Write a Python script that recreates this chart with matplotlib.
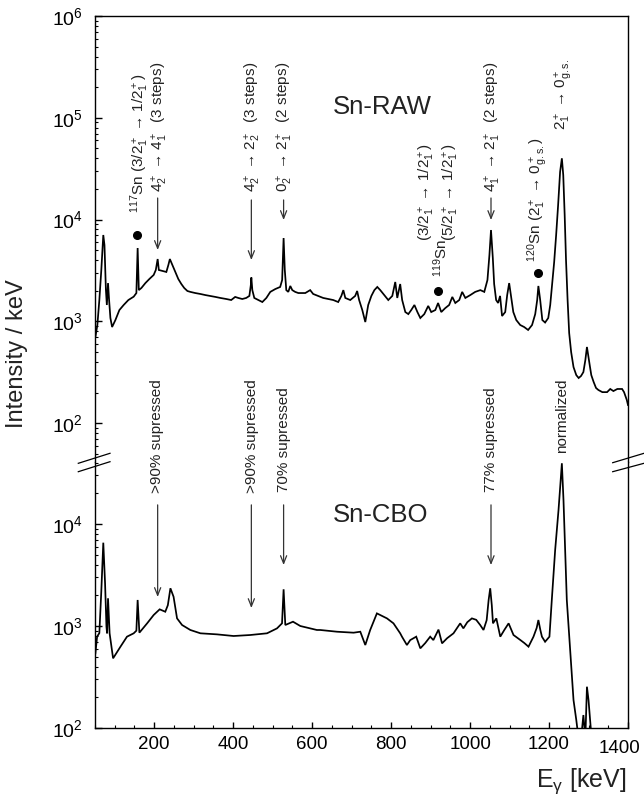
import matplotlib
matplotlib.use('Agg')
import matplotlib.pyplot as plt
from matplotlib.lines import Line2D
from matplotlib.ticker import LogLocator, FixedLocator, FixedFormatter, MultipleLocator, NullFormatter

plt.rcParams['font.family'] = ['Liberation Sans', 'DejaVu Sans']
plt.rcParams['mathtext.fontset'] = 'custom'
plt.rcParams['mathtext.rm'] = 'Liberation Sans'
plt.rcParams['mathtext.it'] = 'Liberation Sans:italic'
plt.rcParams['mathtext.default'] = 'regular'

# ---------------- data ----------------
raw_kev = [51, 56, 61, 66, 71, 74, 77.6, 80, 83, 85.7, 89, 93.3, 101.6, 111.8, 122.6, 134.5,
           148, 154.8, 158, 161, 167.5, 177.6, 187.7, 198.6, 204, 208.7, 211.7, 220.6, 230.7,
           235.8, 239.6, 246, 253.5, 261, 268.7, 276, 284, 291.5, 304, 317, 329.5, 342, 355,
           367.5, 382.6, 395, 405, 413, 423, 433, 441, 444.7, 446, 448.5, 453.5, 463.6, 473.8,
           484, 494, 506.7, 519, 524, 527.7, 530.7, 534.5, 539.6, 544.6, 549.7, 557, 565, 570,
           582.6, 595, 602.6, 615, 628, 641, 653.5, 666, 674, 679, 684, 696.5, 709, 714, 719,
           727, 734.6, 742, 750, 757.6, 765, 772.5, 782.6, 792.8, 803, 810.5, 815.6, 823, 828,
           836, 843.6, 851, 859, 866.6, 874, 884, 894, 901.6, 912, 919, 927, 937, 947, 955,
           962.6, 972.6, 980, 988, 1000.6, 1013, 1026, 1036, 1044, 1049, 1053, 1057.6, 1061,
           1066, 1071, 1076, 1081, 1089, 1094, 1099, 1104, 1109.5, 1117, 1127, 1137, 1147,
           1157, 1165, 1170, 1173, 1177.6, 1183, 1190, 1198, 1203, 1208, 1213, 1218, 1223,
           1228, 1232.5, 1236, 1239.6, 1243, 1247, 1251, 1256, 1262, 1269, 1275, 1281, 1287,
           1292, 1296, 1299, 1303, 1307, 1313, 1319, 1325, 1335, 1347, 1355, 1363, 1373, 1385,
           1390, 1397, 1400]
raw_int = [703, 922, 1622, 3200, 7060, 5620, 2040, 1450, 2380, 1622, 1080, 881, 1030, 1294, 1450, 1622,
           1750, 1900, 5260, 2030, 2130, 2380, 2610, 2860, 3200, 4100, 3200, 3130, 3060,
           3580, 4100, 3580, 3060, 2610, 2330, 2130, 1990, 1950, 1900, 1860, 1815, 1780, 1740,
           1700, 1660, 1622, 1740, 1700, 1660, 1700, 1780, 2280, 2700, 2030, 1700, 1622, 1550,
           1700, 1950, 2080, 2180, 2550, 6590, 3200, 2030, 1950, 2230, 2030, 1950, 1900, 1900,
           1900, 2030, 1860, 1780, 1700, 1660, 1622, 1550, 1780, 2030, 1700, 1622, 1780, 1990, 1622,
           1294, 986, 1450, 1780, 2030, 2180, 2030, 1815, 1622, 1780, 2440, 1700, 2330, 1622,
           1236, 1180, 1294, 1450, 1236, 1080, 1180, 1420, 1236, 1294, 1517, 1236, 1350, 1450, 1740,
           1517, 1622, 1950, 1700, 1815, 1950, 2030, 1950, 2550, 4490, 7900, 4200, 2330,
           1622, 1517, 1780, 1130, 1236, 1815, 2380, 1740, 1236, 1032, 922, 881, 824,
           922, 1180, 1622, 2230, 1622, 1032, 975, 1080, 1450, 2330, 3830, 7060, 13900,
           29400, 40000, 27400, 11100, 4010, 1622, 769, 500, 356, 297, 278, 291, 318,
           418, 561, 468, 373, 297, 254, 222, 212, 202, 202, 217, 207, 217, 217,
           202, 169, 151]

cbo_kev = [51, 55.3, 61, 66, 71, 75.5, 79, 80.6, 83, 87, 95.8, 114.5, 131, 148, 154.8, 158, 162.4,
           182, 198.6, 213.8, 228, 234.5, 241, 249, 257.8, 270.5, 291.5, 317, 359, 401, 443,
           485.7, 511, 523.7, 527.7, 532, 551.5, 570, 612, 620.6, 663, 705, 722, 734.6, 747,
           764, 789.5, 806, 823, 827.5, 840, 848.5, 863.6, 874, 886.4, 899, 907, 920, 929,
           942, 958, 975, 983, 993, 1004.6, 1015.5, 1025.6, 1034, 1042, 1047, 1051, 1055,
           1058, 1066.5, 1076.5, 1086.7, 1097.6, 1110, 1127.5, 1137.6, 1148, 1160.6, 1168.7,
           1173, 1178, 1182, 1190, 1201, 1207, 1215.5, 1224, 1229.5, 1232.5, 1236.6, 1245,
           1253.5, 1262, 1269, 1274.6, 1280, 1287, 1292, 1296, 1300, 1304, 1309, 1320, 1400]
cbo_int = [540, 786, 853, 2200, 6560, 2620, 984, 848, 1870, 848, 482, 627, 786, 848, 900, 1800, 860,
           1062, 1282, 1457, 1380, 1600, 2344, 1936, 1188, 1023, 914, 848, 828, 798, 816,
           848, 948, 1062, 2290, 1023, 1102, 1000, 914, 914, 879, 860, 879, 651, 914,
           1330, 1188, 1062, 848, 786, 651, 728, 786, 604, 680, 786, 728, 922, 676,
           760, 848, 1062, 948, 1090, 1188, 1150, 1023, 914, 1140, 1800, 2344, 1600,
           1062, 1188, 786, 914, 1062, 816, 728, 680, 627, 786, 957,
           1145, 914, 786, 701, 786, 1800, 5560, 13700, 27000, 39400, 17200, 1800,
           582, 188, 120, 80, 70, 134, 80, 254, 188, 120, 70, 40, 30]

x_ticks = [200, 400, 600, 800, 1000, 1200, 1400]
x_tick_labels = ['200', '400', '600', '800', '1000', '1200', '1400']

# top-panel labels: (text, x keV, bottom y)
top_labels = [
    (r'$^{117}$Sn (3/2$^+_1$ → 1/2$^+_1$)', 162, 11600),
    (r'4$^+_2$ → 4$^+_1$  (3 steps)', 215, 18800),
    (r'4$^+_2$ → 2$^+_2$  (3 steps)', 449, 18800),
    (r'0$^+_2$ → 2$^+_1$  (2 steps)', 530, 18800),
    (r'$^{119}$Sn', 925, 2730),
    (r'(3/2$^+_1$ → 1/2$^+_1$)', 892, 6160),
    (r'(5/2$^+_1$ → 1/2$^+_1$)', 951, 6160),
    (r'4$^+_1$ → 2$^+_1$  (2 steps)', 1057, 18800),
    (r'$^{120}$Sn (2$^+_1$ → 0$^+_{g.s.}$)', 1172.6, 3830),
    (r'2$^+_1$ → 0$^+_{g.s.}$', 1236, 75900),
]
top_arrows = [(208.7, 16300, 5030), (446, 15600, 4010), (527.7, 15600, 9910), (1053, 16300, 9910)]
dot_kev = [157.3, 917.6, 1173]
dot_int = [7060, 2010, 3010]

bot_labels = [
    ('>90% supressed', 207.5, 20100),
    ('>90% supressed', 447.7, 20100),
    ('70% supressed', 527.7, 20600),
    ('77% supressed', 1053, 20600),
    ('normalized', 1232.5, 49700),
]
bot_arrows = [(208.7, 15400, 1925), (446, 15400, 1500), (527.7, 15400, 3960), (1053, 15400, 3960)]

# ---------------- figure ----------------
W, H = 644, 796
fig = plt.figure(figsize=(W / 100, H / 100), dpi=100)


def fx(px):
    return px / W


def fy(py):
    return 1 - py / H


L, R, T, BRK, B = 95, 628, 16, 462, 728
ax_t = fig.add_axes([fx(L), fy(BRK), fx(R) - fx(L), fy(T) - fy(BRK)])
ax_b = fig.add_axes([fx(L), fy(B), fx(R) - fx(L), fy(BRK) - fy(B)])

line_kw = dict(color='black', lw=1.25, solid_joinstyle='miter')
ax_t.plot(raw_kev, raw_int, **line_kw)
ax_b.plot(cbo_kev, cbo_int, **line_kw)

ax_t.set_yscale('log')
ax_b.set_yscale('log')
ax_t.set_ylim(41.6, 1e6)
ax_b.set_ylim(100, 40550)
for ax in (ax_t, ax_b):
    ax.set_xlim(50, 1400)
    ax.yaxis.set_major_locator(LogLocator(base=10, numticks=12))
    ax.yaxis.set_minor_locator(LogLocator(base=10, subs=range(2, 10), numticks=12))
    ax.yaxis.set_minor_formatter(NullFormatter())
    ax.tick_params(axis='y', which='major', direction='in', length=5, width=1,
                   labelsize=14, pad=9, right=False)
    ax.tick_params(axis='y', which='minor', direction='in', length=2.5, width=0.8, right=False)
    for s in ax.spines.values():
        s.set_linewidth(1.0)

ax_t.spines['bottom'].set_visible(False)
ax_b.spines['top'].set_visible(False)
ax_t.tick_params(axis='x', which='both', bottom=False, top=False, labelbottom=False)
ax_b.xaxis.set_major_locator(FixedLocator(x_ticks))
# the last label is drawn separately, shifted left to stay inside the figure
ax_b.xaxis.set_major_formatter(FixedFormatter(x_tick_labels[:-1] + ['']))
ax_b.xaxis.set_minor_locator(MultipleLocator(50))
ax_b.tick_params(axis='x', which='major', direction='in', length=4, width=1,
                 labelsize=13.5, pad=6, top=False)
ax_b.tick_params(axis='x', which='minor', direction='in', length=2, width=0.8, top=False)
fig.text(fx(619), fy(B) - 8.3 / 72 * 100 / H, x_tick_labels[-1], ha='center', va='top',
         fontsize=13.5)

# annotations, top panel
txt_col = '#222222'
for s, x, y in top_labels:
    ax_t.text(x, y, s, rotation=90, ha='center', va='bottom', fontsize=11, color=txt_col)
for x, y0, y1 in top_arrows:
    ax_t.annotate('', xy=(x, y1), xytext=(x, y0),
                  arrowprops=dict(arrowstyle='->,head_length=0.55,head_width=0.22',
                                  lw=0.9, color='#333333', shrinkA=0, shrinkB=0))
ax_t.plot(dot_kev, dot_int, 'o', color='black', ms=5.5)

for s, x, y in bot_labels:
    ax_b.text(x, y, s, rotation=90, ha='center', va='bottom', fontsize=11, color=txt_col)
for x, y0, y1 in bot_arrows:
    ax_b.annotate('', xy=(x, y1), xytext=(x, y0),
                  arrowprops=dict(arrowstyle='->,head_length=0.55,head_width=0.22',
                                  lw=0.9, color='#333333', shrinkA=0, shrinkB=0))

ax_t.text(653.5, 127600, 'Sn-RAW', fontsize=18.5, ha='left', va='center', color=txt_col)
ax_b.text(653.5, 12250, 'Sn-CBO', fontsize=18.5, ha='left', va='center', color=txt_col)

# axis labels
fig.text(fx(17), fy(354), 'Intensity / keV', rotation=90, ha='center', va='center',
         fontsize=17, color=txt_col)
fig.text(fx(626), fy(787), r'E$_{\gamma}$ [keV]', ha='right', va='baseline',
         fontsize=18, color=txt_col)

# axis-break marks
for (x0, y0, x1, y1) in [(78.3, 463.3, 110, 453.3), (78.3, 471.7, 110, 461.7),
                         (612.7, 462.7, 644, 453.3), (612.7, 471.7, 644, 463.3)]:
    fig.add_artist(Line2D([fx(x0), fx(x1)], [fy(y0), fy(y1)], color='black', lw=0.9))

fig.savefig('out.png', dpi=100)
